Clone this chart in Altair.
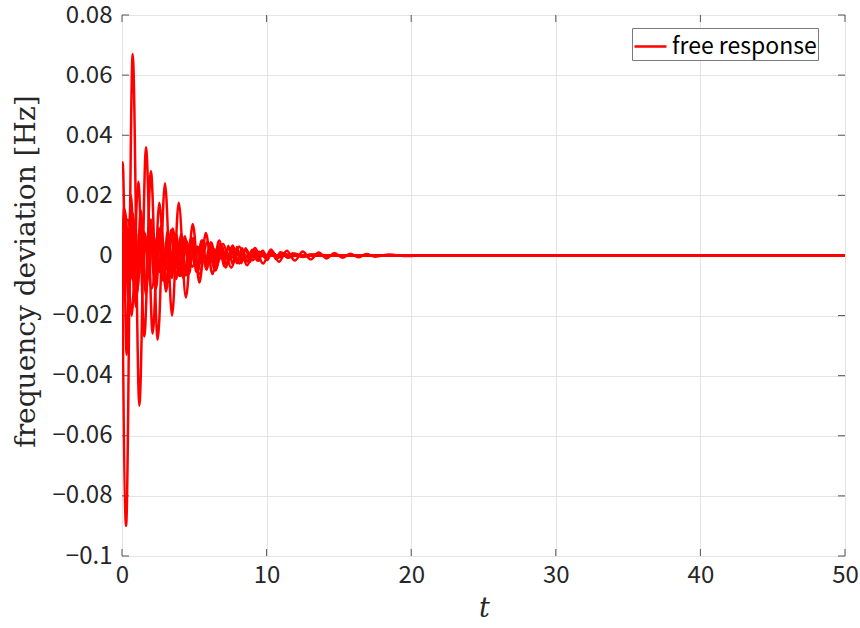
import altair as alt
import pandas as pd

# ---- data (time t, frequency deviation in Hz) ----
T_A = [0, 0.28, 0.74, 1.20, 1.66, 2.12, 2.58, 3.04, 3.50, 3.96, 4.42, 4.88, 5.34, 5.80, 6.26,
       6.72, 7.18, 7.64, 8.10, 8.56, 9.02, 9.48, 9.94, 10.40, 11.0, 12.0, 50]
V_A = [0.004, -0.090, 0.067, -0.050, 0.036, -0.026, 0.0175, -0.012, 0.0090, -0.0068, 0.0050,
       -0.0038, 0.0029, -0.0022, 0.0016, -0.0012, 0.0009, -0.0007, 0.0005, -0.0004, 0.0003,
       -0.0002, 0.00015, -0.0001, 0.0, 0.0, 0.0]

T_B = [0, 0.20, 0.67, 1.13, 1.54, 2.00, 2.47, 2.97, 3.46, 3.92, 4.42, 4.89, 5.35, 5.80, 6.25,
       6.72, 7.18, 7.65, 8.10, 8.57, 9.03, 9.50, 9.95, 10.40, 10.90, 11.35, 11.80, 12.30, 13.0, 50]
V_B = [0.0, 0.015, -0.020, 0.0245, -0.027, 0.028, -0.028, 0.024, -0.020, 0.0175, -0.014, 0.0105,
       -0.0090, 0.0075, -0.0062, 0.0050, -0.0040, 0.0033, -0.0027, 0.0021, -0.0016, 0.0012,
       -0.0009, 0.0007, -0.0005, 0.0004, -0.0003, 0.0002, 0.0, 0.0]

T_C = [0, 0.15, 0.45, 0.75, 1.05, 1.35, 1.65, 1.95, 2.25, 2.55, 2.85, 3.15, 3.45, 3.75, 4.05,
       4.35, 4.65, 4.95, 5.25, 5.55, 5.85, 6.15, 6.45, 6.75, 7.05, 7.35, 7.65, 7.95, 8.25, 8.55,
       8.85, 9.15, 9.45, 9.75, 10.05, 10.35, 10.65, 10.95, 11.5, 12.0, 12.5, 13.0, 14.0, 50]
V_C = [-0.010, 0.016, -0.015, 0.014, -0.012, 0.012, -0.011, 0.010, -0.0095, 0.009, -0.0085,
       0.008, -0.0075, 0.0072, -0.0068, 0.0064, -0.006, 0.0057, -0.0054, 0.005, -0.0047, 0.0044,
       -0.0041, 0.0038, -0.0035, 0.0032, -0.003, 0.0028, -0.0026, 0.0024, -0.0022, 0.002,
       -0.0018, 0.0016, -0.0015, 0.0014, -0.0012, 0.0011, -0.0008, 0.0006, -0.0004, 0.0003,
       0.0, 0.0]

T_D = [0, 0.05, 0.32, 0.62, 0.95, 1.30, 1.65, 2.00, 2.35, 2.70, 3.05, 3.40, 3.75, 4.10, 4.45,
       4.80, 5.15, 5.50, 5.85, 6.20, 6.55, 6.90, 7.25, 7.60, 7.95, 8.30, 8.65, 9.00, 9.35, 9.70,
       10.05, 10.40, 10.75, 11.10, 11.45, 11.80, 12.5, 13.2, 14.0, 15.0, 50]
V_D = [0.028, 0.031, -0.033, 0.020, -0.017, 0.015, -0.013, 0.012, -0.011, 0.010, -0.0092,
       0.0085, -0.0078, 0.0072, -0.0066, 0.006, -0.0055, 0.005, -0.0046, 0.0042, -0.0038, 0.0035,
       -0.0032, 0.0029, -0.0026, 0.0024, -0.0021, 0.0019, -0.0017, 0.0015, -0.0013, 0.0012,
       -0.001, 0.0009, -0.0008, 0.0007, -0.0005, 0.0003, 0.0001, 0.0, 0.0]

T_E = [0, 0.40, 0.95, 1.50, 2.05, 2.60, 3.15, 3.70, 4.25, 4.80, 5.35, 5.90, 6.45, 7.00, 7.55,
       8.10, 8.65, 9.20, 9.75, 10.30, 10.85, 11.40, 11.95, 12.50, 13.05, 13.60, 14.15, 14.70,
       15.25, 15.80, 16.35, 16.90, 17.50, 18.50, 19.50, 21.0, 50]
V_E = [-0.018, 0.012, -0.014, 0.008, -0.011, 0.0075, -0.009, 0.0065, -0.0075, 0.0055, -0.0062,
       0.0045, -0.005, 0.0038, -0.0041, 0.003, -0.0033, 0.0025, -0.0027, 0.002, -0.0021, 0.0016,
       -0.0017, 0.0013, -0.0013, 0.001, -0.001, 0.0008, -0.0008, 0.0006, -0.0006, 0.0005,
       -0.0004, 0.0003, -0.0002, 0.0, 0.0]

T_F = [0, 0.2, 0.4, 0.6, 0.8, 1.0, 1.2, 1.4, 1.6, 1.8, 2.0, 2.2, 2.4, 2.6, 2.8, 3.0, 3.2, 3.4,
       3.6, 3.8, 4.0, 4.2, 4.4, 4.6, 4.8, 5.0, 5.2, 5.4, 5.6, 5.8, 6.0, 6.2, 6.4, 6.6, 6.8, 7.0,
       7.2, 7.4, 7.6, 7.8, 8.0, 8.2, 8.4, 8.6, 8.8, 9.0, 10.0, 50]
V_F = [0.006, -0.008, 0.009, -0.008, 0.0085, -0.0075, 0.008, -0.007, 0.0072, -0.0065, 0.0066,
       -0.006, 0.006, -0.0055, 0.0055, -0.005, 0.005, -0.0046, 0.0045, -0.0042, 0.0041, -0.0038,
       0.0037, -0.0034, 0.0033, -0.003, 0.003, -0.0027, 0.0027, -0.0024, 0.0024, -0.0021,
       0.0021, -0.0019, 0.0018, -0.0016, 0.0015, -0.0013, 0.0012, -0.001, 0.0009, -0.0008,
       0.0007, -0.0006, 0.0005, -0.0004, 0.0, 0.0]

SERIES = [("A", T_A, V_A), ("B", T_B, V_B), ("C", T_C, V_C),
          ("D", T_D, V_D), ("E", T_E, V_E), ("F", T_F, V_F)]
LEGEND_LABEL = "free response"
X_TICKS = [0, 10, 20, 30, 40, 50]
Y_TICKS = [-0.1, -0.08, -0.06, -0.04, -0.02, 0, 0.02, 0.04, 0.06, 0.08]

frames = []
for name, ts, vs in SERIES:
    assert len(ts) == len(vs), name
    frames.append(pd.DataFrame({"series": name, "t": ts, "v": vs, "label": LEGEND_LABEL}))
df = pd.concat(frames, ignore_index=True)

W, H = 723, 541
TICK_FONT = "Noto Sans CJK JP"
GRID = "#e4e4e4"

x_enc = alt.X(
    "t:Q",
    scale=alt.Scale(domain=[0, 50], nice=False, zero=False),
    axis=alt.Axis(values=X_TICKS, grid=True, gridColor=GRID, domain=False, ticks=False,
                  labelFont=TICK_FONT, labelFontSize=24, labelColor="#262626",
                  labelPadding=7, labelFlush=False,
                  title="t", titleFont="DejaVu Serif", titleFontStyle="italic",
                  titleFontWeight="normal", titleFontSize=27, titleColor="#262626",
                  titleX=362, titleY=52, titleBaseline="middle", titleAlign="center"),
)
y_enc = alt.Y(
    "v:Q",
    scale=alt.Scale(domain=[-0.1, 0.08], nice=False, zero=False),
    axis=alt.Axis(values=Y_TICKS, grid=True, gridColor=GRID, domain=False, ticks=False,
                  format=".2~f", labelFont=TICK_FONT, labelFontSize=24, labelColor="#262626",
                  labelPadding=10, labelFlush=False,
                  title="frequency deviation [Hz]", titleFont="DejaVu Serif",
                  titleFontWeight="normal", titleFontSize=28, titleColor="#262626",
                  titleAngle=-90, titleX=-96, titleY=256, titleBaseline="middle",
                  titleAlign="center"),
)

lines = alt.Chart(df).mark_line(strokeWidth=2.5, interpolate="monotone", clip=True).encode(
    x=x_enc,
    y=y_enc,
    detail="series:N",
    color=alt.Color(
        "label:N",
        scale=alt.Scale(range=["#ff0000"]),
        legend=alt.Legend(title=None, orient="none", legendX=510, legendY=13,
                          symbolType="stroke", symbolSize=1024, symbolStrokeWidth=2.5,
                          labelFont=TICK_FONT, labelFontSize=23, labelColor="#000000",
                          labelOffset=4, padding=1, strokeColor="#7a7a7a",
                          fillColor="white", cornerRadius=0),
    ),
)

xt_df = pd.DataFrame({"t": X_TICKS})
yt_df = pd.DataFrame({"v": Y_TICKS})
TICK_COLOR = "#555555"
xt_bottom = alt.Chart(xt_df).mark_rule(color=TICK_COLOR, strokeWidth=1).encode(
    x=x_enc, y=alt.value(H), y2=alt.value(H - 7))
xt_top = alt.Chart(xt_df).mark_rule(color=TICK_COLOR, strokeWidth=1).encode(
    x=x_enc, y=alt.value(0), y2=alt.value(7))
yt_left = alt.Chart(yt_df).mark_rule(color=TICK_COLOR, strokeWidth=1).encode(
    y=y_enc, x=alt.value(0), x2=alt.value(7))
yt_right = alt.Chart(yt_df).mark_rule(color=TICK_COLOR, strokeWidth=1).encode(
    y=y_enc, x=alt.value(W), x2=alt.value(W - 7))

chart = alt.layer(xt_bottom, xt_top, yt_left, yt_right, lines).properties(
    width=W, height=H,
    autosize=alt.AutoSizeParams(type="none"),
    padding={"left": 122, "top": 15, "right": 15, "bottom": 72},
).configure_view(stroke="#7a7a7a", strokeWidth=1).configure(background="white")

chart.save("out.html", embed_options={"renderer": "svg", "actions": False})
